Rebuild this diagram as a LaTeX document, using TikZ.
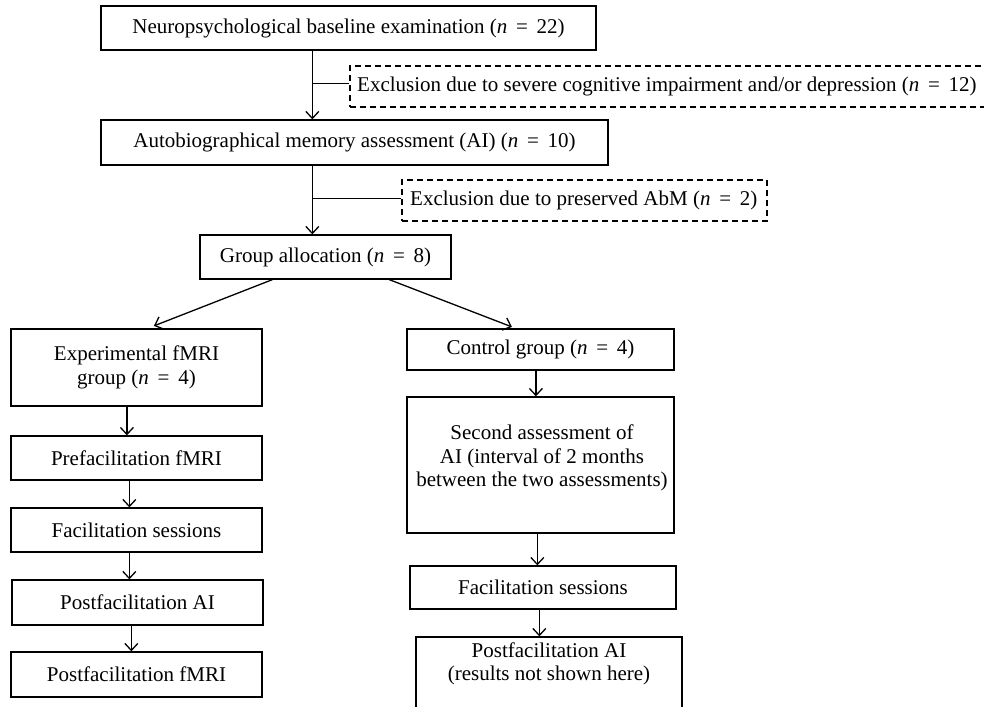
\documentclass[tikz,border=0pt]{standalone}
\usepackage{fontspec}
\setmainfont{Liberation Serif}
\usetikzlibrary{arrows.meta,calc}
\newcommand{\nn}[1]{(\textit{n}\ \,=\ \,#1)}
\begin{document}
\begin{tikzpicture}[x=1pt,y=-1pt,
  font=\fontsize{21}{23.5}\selectfont,
  box/.style={draw, line width=1.3pt, inner sep=0pt, align=center},
  thickbox/.style={box, line width=2.2pt},
  exbox/.style={draw, dashed, dash pattern=on 6pt off 4pt, line width=1.3pt, inner sep=0pt},
  txt/.style={inner sep=0pt, align=center},
  arr/.style={-{Straight Barb[length=7pt,width=13pt]}, line width=1.3pt},
  ln/.style={line width=1.3pt}]
\useasboundingbox (0,0) rectangle (984,706);
\begin{scope}
\clip (0,0) rectangle (984,706);
\node[box, minimum width=495pt, minimum height=44pt] (b1) at (348.5,28) {Neuropsychological baseline examination \nn{22}};
\node[exbox, minimum width=640pt, minimum height=41pt] (e1) at (670,86.5) {};
\node[txt, anchor=west] (e1t) at (357,86.5) {Exclusion due to severe cognitive impairment and/or depression \nn{12}};
\node[box, minimum width=507pt, minimum height=45pt] (b2) at (354.5,142.5) {Autobiographical memory assessment (AI) \nn{10}};
\node[exbox, minimum width=365pt, minimum height=41pt] (e2) at (584.5,200.5) {};
\node[txt, anchor=west] (e2t) at (410,200.5) {Exclusion due to preserved AbM \nn{2}};
\node[box, minimum width=251pt, minimum height=44pt] (b3) at (325.5,257) {Group allocation \nn{8}};
\node[thickbox, minimum width=251pt, minimum height=77pt] (ex) at (136.5,367.5) {Experimental fMRI\\group \nn{4}};
\node[thickbox, minimum width=267pt, minimum height=41pt] (ct) at (540.5,349.5) {Control group \nn{4}};
\node[box, minimum width=251pt, minimum height=44pt] (pre) at (136.5,458) {Prefacilitation fMRI};
\node[box, minimum width=251pt, minimum height=44pt] (fac) at (136.5,530) {Facilitation sessions};
\node[box, minimum width=251pt, minimum height=45pt] (pai) at (137.5,602.5) {Postfacilitation AI};
\node[box, minimum width=251pt, minimum height=45pt] (pfm) at (136.5,674.5) {Postfacilitation fMRI};
\node[box, minimum width=267pt, minimum height=136pt] (sec) at (540.5,465) {};
\node[txt] (sect) at (542,458) {Second assessment of\\AI (interval of 2 months\\between the two assessments)};
\node[box, minimum width=266pt, minimum height=43pt] (cfac) at (543,587.5) {Facilitation sessions};
\node[box, minimum width=266pt, minimum height=90pt] (cpai) at (549,682) {};
\node[txt] (cpait) at (549,664) {Postfacilitation AI\\(results not shown here)};
\end{scope}
% connectors
\coordinate (j1) at ($(b1.south west)+(212,33)$);
\coordinate (j2) at ($(b2.south west)+(212,33)$);
\draw[arr] (b1.south west -| j1) coordinate (s1) -- (s1 |- b2.north);
\draw[ln] (j1) -- (j1 -| e1.west);
\draw[arr] (b2.south -| j1) coordinate (s2) -- (s2 |- b3.north);
\draw[ln] (j2) -- (j2 -| e2.west);
\coordinate (g1) at ($(b3.south west)+(73,0)$);
\coordinate (g2) at ($(b3.south west)+(190,0)$);
\coordinate (t1) at ($(ex.north west)+(144,-2)$);
\coordinate (t2) at ($(ct.north west)+(106,-1)$);
\draw[arr] (g1) -- (t1);
\draw[arr] (g2) -- (t2);
\draw[arr] ($(ex.south west)+(117,0)$) coordinate (a1) -- (a1 |- pre.north);
\draw[arr] ($(pre.south west)+(119,0)$) coordinate (a2) -- (a2 |- fac.north);
\draw[arr] ($(fac.south west)+(119,0)$) coordinate (a3) -- (a3 |- pai.north);
\draw[arr] ($(pai.south west)+(120,0)$) coordinate (a4) -- (a4 |- pfm.north);
\draw[arr] ($(ct.south west)+(130,0)$) coordinate (c1) -- (c1 |- sec.north);
\draw[arr] ($(sec.south west)+(131,0)$) coordinate (c2) -- (c2 |- cfac.north);
\draw[arr] ($(cfac.south west)+(130,0)$) coordinate (c3) -- (c3 |- cpai.north);
\end{tikzpicture}
\end{document}
